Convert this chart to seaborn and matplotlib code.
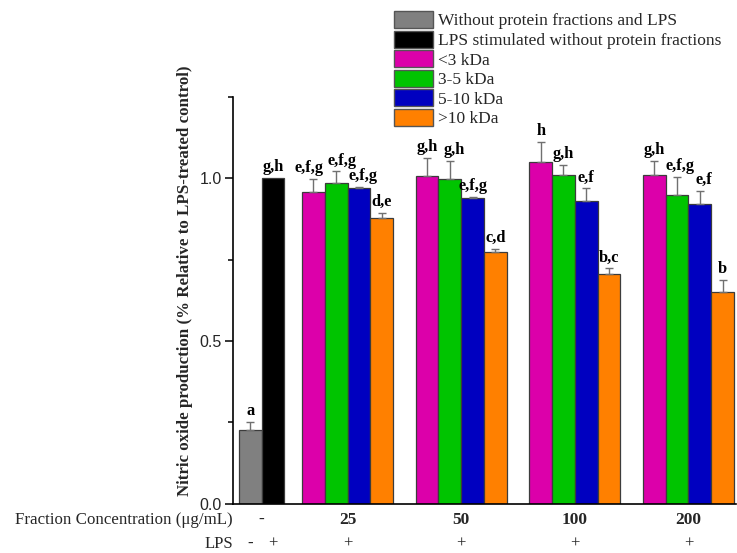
import numpy as np
import pandas as pd
import matplotlib
matplotlib.use("Agg")
import matplotlib.pyplot as plt
import seaborn as sns
from matplotlib.patches import Patch
from matplotlib.ticker import MultipleLocator

# ---------------- data ----------------
series = ["Without protein fractions and LPS",
          "LPS stimulated without protein fractions",
          "<3 kDa", "3-5 kDa", "5-10 kDa", ">10 kDa"]
colors = ["#808080", "#000000", "#dc00aa", "#00c400", "#0000c0", "#ff8000"]
concentrations = ["25", "50", "100", "200"]
control_tick = "-"
lps_marks = ["-", "+", "+", "+", "+", "+"]

control_values = [0.226, 1.000]
control_errors = [0.025, 0.0]
control_letters = ["a", "g,h"]

lt3_values = [0.957, 1.008, 1.049, 1.009]
lt3_errors = [0.040, 0.055, 0.062, 0.043]
lt3_letters = ["e,f,g", "g,h", "h", "g,h"]

k3_5_values = [0.986, 0.998, 1.009, 0.948]
k3_5_errors = [0.035, 0.054, 0.031, 0.055]
k3_5_letters = ["e,f,g", "g,h", "g,h", "e,f,g"]

k5_10_values = [0.969, 0.939, 0.929, 0.920]
k5_10_errors = [0.003, 0.003, 0.040, 0.040]
k5_10_letters = ["e,f,g", "e,f,g", "e,f", "e,f"]

gt10_values = [0.878, 0.773, 0.705, 0.650]
gt10_errors = [0.015, 0.009, 0.018, 0.037]
gt10_letters = ["d,e", "c,d", "b,c", "b"]

# ---------------- layout helpers ----------------
group_start = 2.78
group_step = 5
# small horizontal nudges (points) for crowded letter labels: (series index, group)
label_nudge = {(2, 0): -3, (3, 0): 4, (4, 0): 3, (3, 1): 3, (3, 3): 2, (4, 3): 3}

rows = []
for i in range(2):
    rows.append(dict(pos=float(i), value=control_values[i], err=control_errors[i],
                     series=series[i], letter=control_letters[i], dx=0))
frac_vals = [lt3_values, k3_5_values, k5_10_values, gt10_values]
frac_errs = [lt3_errors, k3_5_errors, k5_10_errors, gt10_errors]
frac_lets = [lt3_letters, k3_5_letters, k5_10_letters, gt10_letters]
for g in range(len(concentrations)):
    for k in range(4):
        rows.append(dict(pos=round(group_start + group_step * g + k, 3),
                         value=frac_vals[k][g], err=frac_errs[k][g],
                         series=series[k + 2], letter=frac_lets[k][g],
                         dx=label_nudge.get((k + 2, g), 0)))
df = pd.DataFrame(rows)

sns.set_theme(style="ticks")
plt.rcParams["font.family"] = ["Liberation Serif", "DejaVu Sans"]
plt.rcParams["axes.linewidth"] = 1.2

fig = plt.figure(figsize=(7.37, 5.53), dpi=100)
ax_left, ax_bottom = 233 / 737, (553 - 503.5) / 553
ax = fig.add_axes([ax_left, ax_bottom, 0.998 - ax_left, (503.5 - 97) / 553])

sns.barplot(data=df, x="pos", y="value", hue="series", hue_order=series,
            palette=colors, saturation=1, native_scale=True, dodge=False,
            width=1.0, edgecolor="#3c3c3c", linewidth=0.9, errorbar=None,
            legend=False, ax=ax)

eb = df[df["err"] > 0]
ax.errorbar(eb["pos"], eb["value"], yerr=[np.zeros(len(eb)), eb["err"]],
            fmt="none", ecolor="#707070", elinewidth=1.0, capsize=3.2,
            capthick=1.0, zorder=3)

for _, r in df.iterrows():
    ax.annotate(r["letter"], (r["pos"], r["value"] + r["err"]),
                xytext=(r["dx"], 5), textcoords="offset points", ha="center",
                va="baseline", fontsize=11.8, fontweight="bold",
                family="Liberation Serif", color="black")

ax.set_xlim(-0.76, 21.35)
ax.set_ylim(0, 1.25)
sns.despine(ax=ax, top=True, right=True)
ax.spines["left"].set_color("black")
ax.spines["bottom"].set_color("black")

ax.set_yticks([0.0, 0.5, 1.0])
ax.set_yticklabels(["0.0", "0.5", "1.0"], family="Liberation Sans", fontsize=11.5)
ax.yaxis.set_minor_locator(MultipleLocator(0.25))
ax.tick_params(axis="y", which="major", direction="out", length=6, width=1.1,
               color="black", pad=2)
ax.tick_params(axis="y", which="minor", direction="out", length=3.5, width=1.1,
               color="black", left=True)

group_centers = [group_start + group_step * g + 1.5 for g in range(len(concentrations))]
ax.set_xticks([0.5] + group_centers)
ax.set_xticklabels([control_tick] + concentrations, fontsize=12.5,
                   fontweight="bold", family="Liberation Serif")
ax.tick_params(axis="x", length=0, pad=6)
ax.set_xlabel("")
ax.set_ylabel("")

# row labels below the axis
ax.text(0, -(520 - 503.5) / (503.5 - 97), "Fraction Concentration (\u03bcg/mL)",
        transform=ax.transAxes, ha="right", va="center", fontsize=12.2,
        family="Liberation Serif")
lps_y = -(544 - 503.5) / (503.5 - 97)
ax.text(0, lps_y, "LPS", transform=ax.transAxes, ha="right", va="center",
        fontsize=12, family="Liberation Serif")
lps_x = [0, 1] + group_centers
for x, m in zip(lps_x, lps_marks):
    ax.text(x, lps_y, m, transform=ax.get_xaxis_transform(), ha="center",
            va="center", fontsize=12, family="Liberation Serif",
            fontweight="bold" if m == "-" else "normal")

fig.text(185 / 737, 1 - 281 / 553,
         "Nitric oxide production (% Relative to LPS-treated control)",
         rotation=90, ha="center", va="center", fontsize=12.2,
         fontweight="bold", family="Liberation Serif")

handles = [Patch(facecolor=c, edgecolor="#555555", linewidth=1.0) for c in colors]
fig.legend(handles, series, loc="upper left",
           bbox_to_anchor=(394 / 737, 1 - 11 / 553), bbox_transform=fig.transFigure,
           frameon=False, prop={"family": "Liberation Serif", "size": 12.5},
           handlelength=2.25, handleheight=1.15, handletextpad=0.3,
           labelspacing=0.06, borderpad=0, borderaxespad=0)

fig.savefig("out.png", dpi=100)
